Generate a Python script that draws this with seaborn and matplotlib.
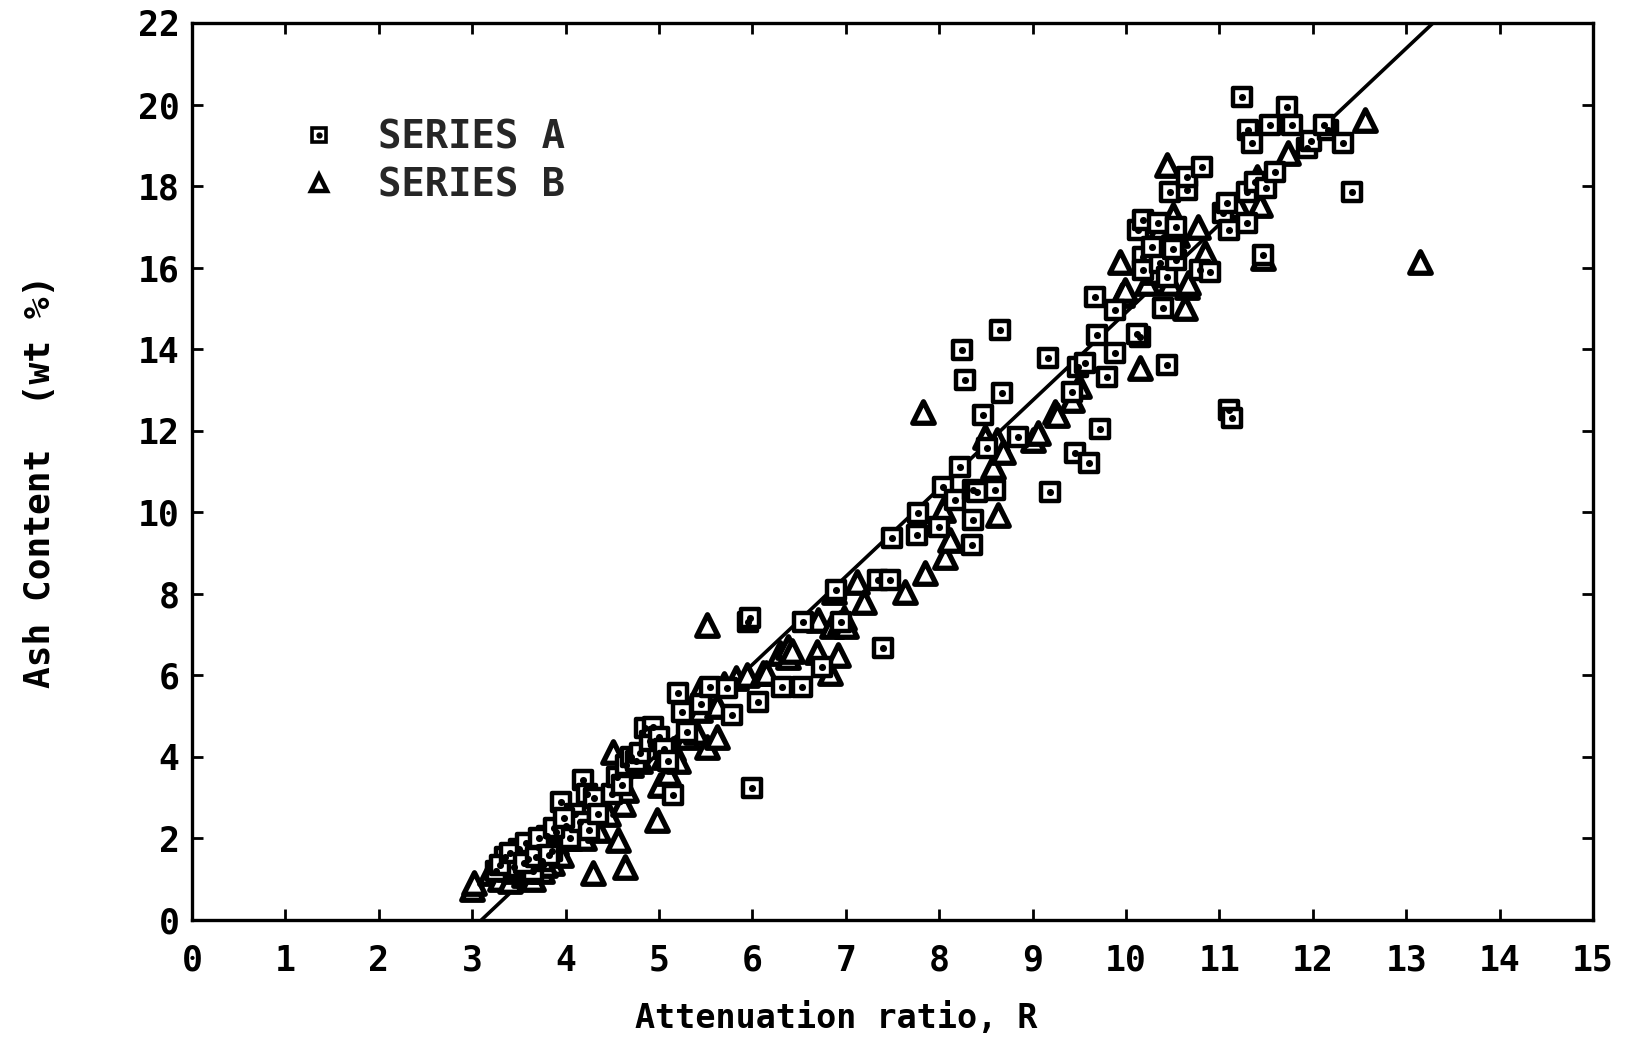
import numpy as np
import pandas as pd
import matplotlib
matplotlib.use("Agg")
import matplotlib.pyplot as plt
import seaborn as sns
from matplotlib.lines import Line2D
from matplotlib.legend_handler import HandlerTuple

# ---------------- data ----------------
series_a_x = [3.25, 3.35, 3.45, 3.5, 3.6, 3.65, 3.7, 3.75, 3.8, 3.85, 3.9, 3.95, 4.0, 4.05, 4.1, 4.15,
              3.3, 3.4, 3.55, 3.58, 3.68, 3.72, 3.82, 3.88, 3.98,
              4.19, 4.23, 4.25, 4.3, 4.35, 4.5, 4.55, 4.6, 4.65, 4.7, 4.75, 4.8, 4.85, 4.9, 4.94, 5.0,
              5.05, 5.1, 5.15,
              5.2, 5.25, 5.3, 5.45, 5.55, 5.73, 5.78, 5.95, 5.98, 6.0, 6.06, 6.32, 6.53, 6.54, 6.75,
              6.9, 6.95,
              7.35, 7.47, 7.4, 7.49, 7.76, 7.77, 8.0, 8.04, 8.17, 8.22, 8.24, 8.28, 8.35, 8.36, 8.4,
              8.36, 8.47, 8.51, 8.6, 8.65, 8.67, 8.84,
              9.16, 9.19, 9.42, 9.45, 9.49, 9.56, 9.6, 9.67, 9.69, 9.72, 9.8, 9.88, 9.88,
              10.13, 10.15, 10.12, 10.18, 10.18, 10.18, 10.34, 10.36, 10.40, 10.44, 10.44, 10.47,
              10.54, 10.54, 10.65, 10.65, 10.79, 10.81, 10.9, 10.28, 10.5,
              11.04, 11.08, 11.1, 11.1, 11.13, 11.24, 11.3, 11.3, 11.31, 11.35, 11.38, 11.47, 11.5,
              11.54, 11.6, 11.72, 11.78, 11.94, 11.98, 12.16, 12.12, 12.32, 12.42]
series_a_y = [1.2, 1.55, 1.3, 1.75, 1.5, 1.2, 1.8, 1.45, 2.05, 1.7, 2.15, 2.9, 2.3, 2.0, 2.6, 2.4,
              1.35, 1.65, 1.4, 1.9, 1.55, 2.0, 1.6, 2.25, 2.5,
              3.43, 3.1, 2.2, 3.0, 2.6, 3.1, 3.5, 3.3, 3.8, 4.0, 3.9, 4.1, 4.7, 4.4, 4.73, 4.5,
              4.2, 3.9, 3.07,
              5.56, 5.1, 4.6, 5.3, 5.72, 5.69, 5.03, 7.3, 7.4, 3.24, 5.35, 5.72, 5.72, 7.31, 6.2,
              8.1, 7.3,
              8.34, 8.34, 6.67, 9.37, 9.44, 9.98, 9.64, 10.62, 10.3, 11.12, 13.98, 13.25, 9.2, 10.55, 10.5,
              9.81, 12.39, 11.58, 10.55, 14.47, 12.92, 11.85,
              13.78, 10.5, 12.95, 11.45, 13.56, 13.66, 11.2, 15.28, 14.35, 12.05, 13.32, 13.91, 14.96,
              16.92, 14.3, 14.38, 17.17, 16.26, 15.94, 17.1, 16.11, 15.0, 15.77, 13.61, 17.86,
              17.0, 16.19, 17.9, 18.22, 15.94, 18.47, 15.9, 16.5, 16.45,
              17.34, 17.59, 16.92, 12.5, 12.3, 20.19, 17.86, 17.1, 19.38, 19.06, 18.1, 16.31, 17.95,
              19.5, 18.35, 19.95, 19.5, 18.93, 19.1, 19.38, 19.5, 19.06, 17.86]

series_b_x = [3.0, 3.02, 3.19, 3.3, 3.35, 3.4, 3.45, 3.5, 3.55, 3.6, 3.65, 3.7, 3.75, 3.8, 3.85, 3.9,
              3.25, 3.38, 3.48, 3.58, 3.62, 3.78, 3.92, 4.02,
              3.95, 4.0, 4.05, 4.1, 4.2, 4.25, 4.29, 4.35, 4.45, 4.51, 4.56, 4.64, 4.62, 4.65, 4.7,
              4.8, 4.98, 5.01, 5.05, 5.1, 5.15, 5.2, 5.3, 5.4, 5.44, 5.44, 5.51, 5.51, 5.62, 5.62,
              5.7, 5.83, 5.94, 6.11, 6.15, 6.3, 6.38, 6.38, 6.42, 6.69, 6.7, 6.83, 6.85, 6.87, 6.92,
              6.94, 7.0, 6.98, 7.12, 7.2, 7.63, 7.83, 7.85, 8.04, 8.06, 8.12, 8.49, 8.58, 8.62, 8.63,
              8.68, 9.0, 9.06, 9.24, 9.26, 9.42, 9.5, 9.94, 9.96, 9.99, 10.15, 10.22, 10.3, 10.35,
              10.44, 10.47, 10.5, 10.63, 10.65, 10.66, 10.77, 10.85, 10.4, 10.55, 10.3, 11.2,
              11.4, 11.43, 11.47, 11.73, 12.56, 13.15]
series_b_y = [0.75, 0.9, 1.15, 1.0, 1.45, 0.95, 1.2, 1.6, 1.1, 1.35, 1.0, 1.5, 1.2, 1.7, 1.4, 1.9,
              1.3, 1.25, 1.45, 1.6, 1.2, 1.35, 1.65, 2.0,
              1.6, 2.5, 2.0, 2.3, 2.0, 2.4, 1.15, 2.2, 2.6, 4.12, 1.96, 1.3, 2.85, 3.2, 3.8,
              3.9, 2.45, 3.31, 4.0, 3.6, 4.2, 3.9, 4.5, 4.6, 5.15, 5.64, 4.24, 7.24, 4.49, 5.25,
              5.8, 5.93, 6.0, 6.06, 6.05, 6.55, 6.45, 6.7, 6.6, 6.57, 7.35, 6.06, 7.2, 8.05, 6.5,
              7.28, 7.2, 7.4, 8.3, 7.8, 8.05, 12.46, 8.5, 10.06, 8.9, 9.32, 11.85, 11.1, 11.77, 9.93,
              11.48, 11.77, 11.94, 12.46, 12.39, 12.75, 13.1, 16.14, 15.33, 15.45, 13.54, 15.62, 16.6, 16.9,
              18.52, 15.62, 17.3, 15.0, 15.53, 15.62, 17.0, 16.36, 16.5, 16.8, 15.9, 17.5,
              18.22, 17.54, 16.24, 18.8, 19.62, 16.15]

fit_slope = 2.159
fit_intercept = -6.69

x_ticks = list(range(0, 16))
y_ticks = list(range(0, 23, 2))
series_labels = ["SERIES A", "SERIES B"]

df_a = pd.DataFrame({"R": series_a_x, "ash": series_a_y})
df_b = pd.DataFrame({"R": series_b_x, "ash": series_b_y})

# ---------------- style ----------------
sns.set_theme(style="ticks")
plt.rcParams["font.family"] = ["DejaVu Sans Mono", "DejaVu Sans"]
plt.rcParams["font.weight"] = "bold"

fig = plt.figure(figsize=(16.28, 10.39), dpi=100)
ax = fig.add_axes([0.1179, 0.1145, 0.8606, 0.8634])

# regression line (under markers)
ax.axline((0, fit_intercept), slope=fit_slope, color="black", lw=2.6, zorder=1)

sns.scatterplot(data=df_b, x="R", y="ash", ax=ax, marker="^", s=240,
                facecolor="white", edgecolor="black", linewidth=3.8, zorder=3, legend=False)
sns.scatterplot(data=df_a, x="R", y="ash", ax=ax, marker="s", s=185,
                facecolor="white", edgecolor="black", linewidth=3.2, zorder=4, legend=False)
sns.scatterplot(data=df_a, x="R", y="ash", ax=ax, marker="o", s=26,
                color="black", linewidth=0, zorder=5, legend=False)

ax.set_xlim(0, 15)
ax.set_ylim(0, 22)
ax.set_xticks(x_ticks)
ax.set_yticks(y_ticks)
ax.tick_params(axis="both", which="major", direction="in", length=8, width=2.0,
               labelsize=25, top=True, right=True, color="black", labelcolor="black")
ax.tick_params(axis="x", pad=17)
ax.tick_params(axis="y", pad=9)
for lab in ax.get_xticklabels() + ax.get_yticklabels():
    lab.set_fontweight("bold")
for sp in ax.spines.values():
    sp.set_visible(True)
    sp.set_linewidth(2.4)
    sp.set_color("black")

ax.set_xlabel("Attenuation ratio, R", fontsize=24, color="black", fontweight="bold")
ax.set_ylabel("Ash Content  (wt %)", fontsize=26, color="black", fontweight="bold")
ax.xaxis.set_label_coords(0.46, -0.091)
ax.yaxis.set_label_coords(-0.096, 0.489)

# legend
h_sq = Line2D([], [], marker="s", ls="none", markersize=10, markerfacecolor="white",
              markeredgecolor="black", markeredgewidth=2.6)
h_dot = Line2D([], [], marker="o", ls="none", markersize=3.5, color="black")
h_tri = Line2D([], [], marker="^", ls="none", markersize=12, markerfacecolor="white",
               markeredgecolor="black", markeredgewidth=3.2)
leg = ax.legend([(h_sq, h_dot), h_tri], series_labels, loc="upper left",
                bbox_to_anchor=(0.052, 0.932), frameon=False, fontsize=28,
                handler_map={tuple: HandlerTuple(ndivide=1, pad=0)},
                handletextpad=1.0, labelspacing=0.25, handlelength=1.0)
for t in leg.get_texts():
    t.set_fontweight("bold")

fig.savefig("out.png", dpi=100)
